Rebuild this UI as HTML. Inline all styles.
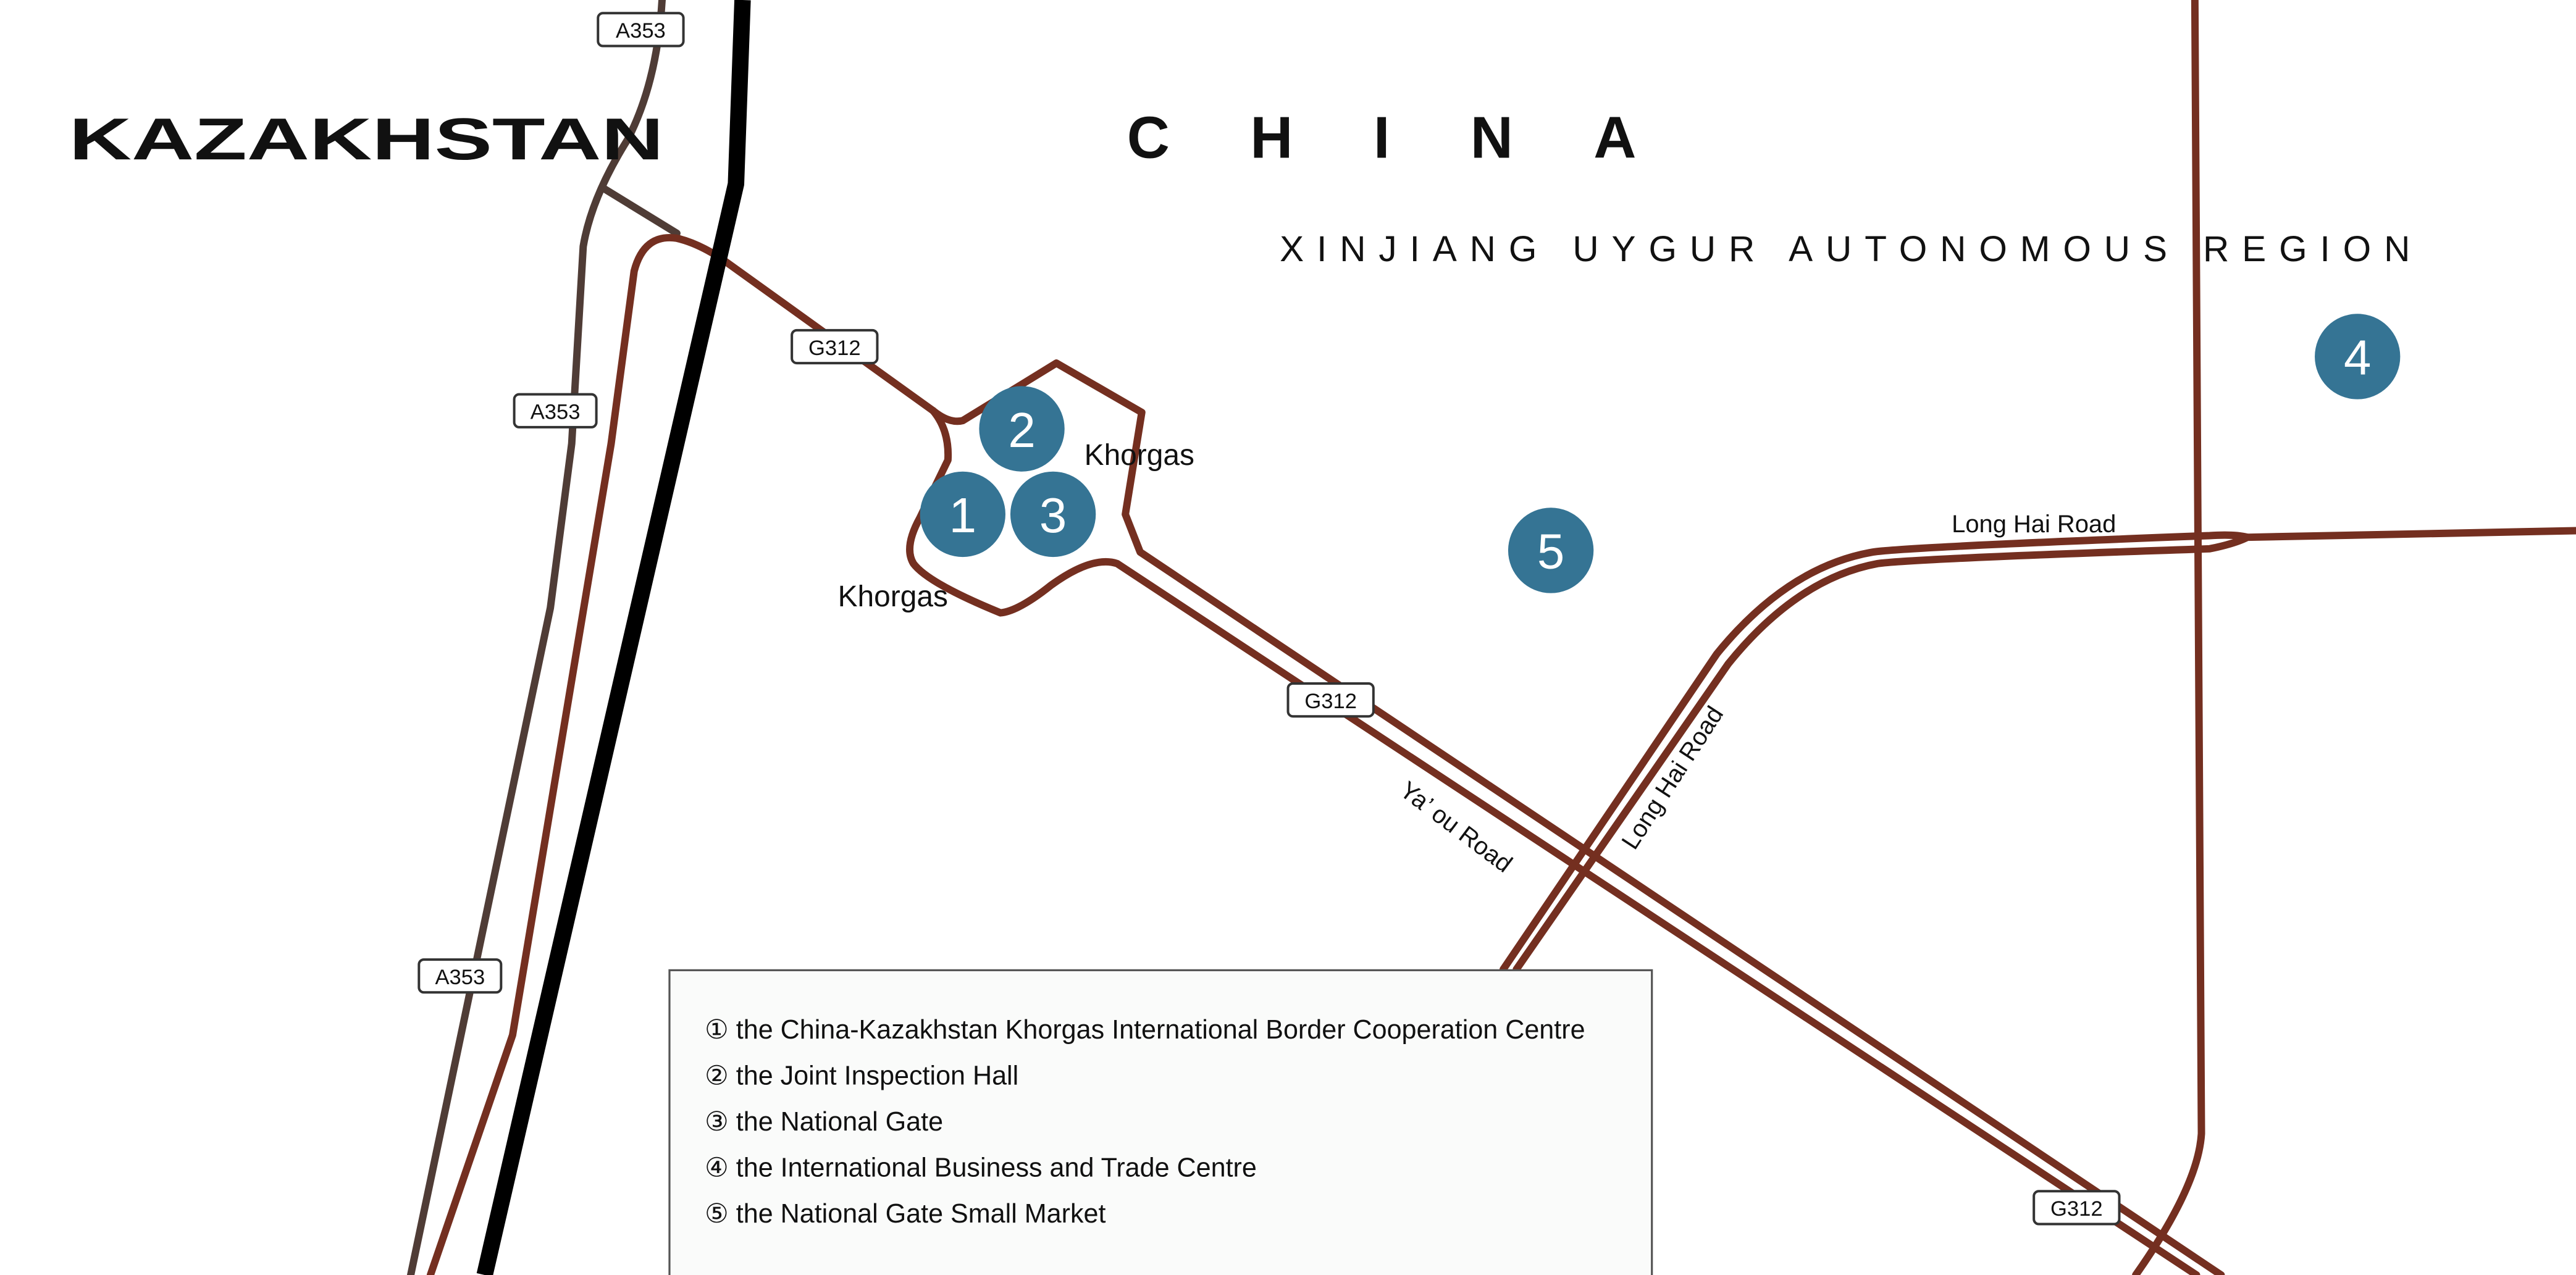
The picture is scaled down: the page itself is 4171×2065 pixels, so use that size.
<!DOCTYPE html>
<html><head><meta charset="utf-8"><style>
html,body{margin:0;padding:0;background:#fff;width:4171px;height:2065px;overflow:hidden}
svg{display:block}
text{font-family:"Liberation Sans",sans-serif}
</style></head><body>
<svg width="4171" height="2065" viewBox="0 0 1568 776" preserveAspectRatio="none" xmlns="http://www.w3.org/2000/svg">
<rect width="1568" height="776" fill="#fff"/>
<g fill="none" stroke-linejoin="round" stroke-linecap="round">
<path d="M403,0 Q400,50 382,85 Q360,120 355,150 L348,270 L335,370 L250,776" stroke="#4f3c36" stroke-width="4.5"/>
<path d="M368,115 L412,142" stroke="#4f3c36" stroke-width="4.5"/>
<path d="M262,776 L312,630 L372,270 L386,165 Q392,142 412,145 Q425,148 440,158 L568,250" stroke="#742f20" stroke-width="4.5"/>
<path d="M452,0 L448,112 L295,776" stroke="#000" stroke-width="10" stroke-linecap="butt"/>
<path d="M568,250 Q578,262 577,280 L560,315 Q550,333 556,343 Q565,355 609,373 Q620,372 640,356 Q665,338 680,343 L1337,776" stroke="#742f20" stroke-width="4.5"/>
<path d="M568,250 Q578,258 586,256 L643,221 L695,251 L685,313 L694,336 L1352,776" stroke="#742f20" stroke-width="4.5"/>
<path d="M915,590 L1045,398 Q1088,345 1140,336 Q1160,333 1345,326 Q1360,325 1368,327" stroke="#742f20" stroke-width="4.5"/>
<path d="M923,590 L1052,404 Q1094,352 1143,343 Q1165,340 1345,334 Q1360,331 1368,327 L1568,323" stroke="#742f20" stroke-width="4.5"/>
<path d="M1336,0 L1340,690 Q1338,722 1300,776" stroke="#742f20" stroke-width="4.5"/>
</g>
<rect x="407.5" y="590.5" width="598" height="200" fill="#fafbfa" stroke="#555" stroke-width="1.2"/>
<g font-size="16.2" fill="#111">
<text x="429" y="632">① the China-Kazakhstan Khorgas International Border Cooperation Centre</text>
<text x="429" y="660">② the Joint Inspection Hall</text>
<text x="429" y="688">③ the National Gate</text>
<text x="429" y="716">④ the International Business and Trade Centre</text>
<text x="429" y="744">⑤ the National Gate Small Market</text>
</g>
<g fill="#fff" stroke="#333" stroke-width="1.5">
<rect x="364" y="8" width="52" height="20" rx="3"/>
<rect x="313" y="240" width="50" height="20" rx="3"/>
<rect x="255" y="584" width="50" height="20" rx="3"/>
<rect x="482" y="201" width="52" height="20" rx="3"/>
<rect x="784" y="416" width="52" height="20" rx="3"/>
<rect x="1238" y="725" width="52" height="20" rx="3"/>
</g>
<g font-size="13" fill="#111" text-anchor="middle">
<text x="390" y="23">A353</text>
<text x="338" y="255">A353</text>
<text x="280" y="599">A353</text>
<text x="508" y="216">G312</text>
<text x="810" y="431">G312</text>
<text x="1264" y="740">G312</text>
</g>
<g fill="#357494">
<circle cx="586" cy="313" r="26"/>
<circle cx="622" cy="261" r="26"/>
<circle cx="641" cy="313" r="26"/>
<circle cx="1435" cy="217" r="26"/>
<circle cx="944" cy="335" r="26"/>
</g>
<g fill="#fff" font-size="30" text-anchor="middle">
<text x="586" y="324">1</text>
<text x="622" y="272">2</text>
<text x="641" y="324">3</text>
<text x="1435" y="228">4</text>
<text x="944" y="346">5</text>
</g>
<g fill="#111">
<text x="660" y="283" font-size="18">Khorgas</text>
<text x="510" y="369" font-size="18">Khorgas</text>
<text x="1188" y="324" font-size="15">Long Hai Road</text>
<text x="0" y="0" font-size="15" transform="translate(995,518) rotate(-57)">Long Hai Road</text>
<text x="0" y="0" font-size="15" transform="translate(851,483) rotate(37)">Ya’ ou Road</text>
<text x="42" y="97" font-size="36" font-weight="bold" textLength="362" lengthAdjust="spacingAndGlyphs">KAZAKHSTAN</text>
<text x="686" y="96" font-size="36" font-weight="bold" textLength="310" lengthAdjust="spacing">CHINA</text>
<text x="779" y="159" font-size="22" textLength="688" lengthAdjust="spacing">XINJIANG  UYGUR  AUTONOMOUS REGION</text>
</g>
</svg>
</body></html>
